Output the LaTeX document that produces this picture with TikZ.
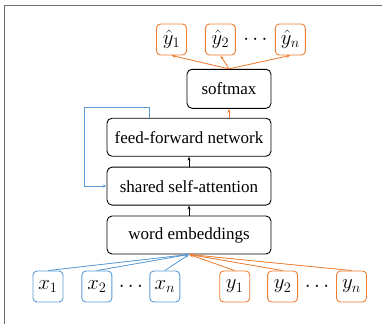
\documentclass[tikz,border=0pt]{standalone}
\usepackage{fontspec}
\setmainfont{Liberation Serif}
\usepackage{tikz}
\usetikzlibrary{positioning,calc,arrows.meta}

\definecolor{lineblue}{RGB}{91,155,213}
\definecolor{lineorange}{RGB}{237,125,49}
\definecolor{framegray}{RGB}{110,110,110}

\tikzset{
  layer/.style={draw, line width=0.9pt, rounded corners=5pt, minimum width=164pt, minimum height=38pt, inner sep=0pt, font=\fontsize{17}{20}\selectfont},
  tok/.style={draw, line width=0.9pt, rounded corners=4pt, minimum width=30pt, minimum height=31pt, inner sep=0pt, font=\fontsize{20.5}{24}\selectfont},
  intok/.style={tok, draw=lineblue},
  outtok/.style={tok, draw=lineorange},
  dots/.style={inner sep=0pt, font=\fontsize{20}{24}\selectfont},
  arr/.style={line width=0.8pt, -{Stealth[length=4pt,width=3pt]}},
  barr/.style={arr, draw=lineblue, fill=lineblue},
  oarr/.style={arr, draw=lineorange, fill=lineorange}
}

\begin{document}
\begin{tikzpicture}[x=1pt, y=-1pt]
    \useasboundingbox (0,0) rectangle (382,324);
    \draw[framegray, line width=1.5pt] (382,5.5) -- (4.5,5.5) -- (4.5,324);

    % model stack
    \node[layer] (emb) at (189,235) {word embeddings};
    \node[layer, above=10pt of emb] (att) {shared self-attention};
    \node[layer, above=10pt of att] (ffn) {feed-forward network};
    \node[layer, minimum width=84pt, minimum height=39pt, above=9pt of ffn.north east, anchor=south east] (soft) {softmax};

    % outputs
    \node[outtok] (yh1) at (171.5,39.5) {$\hat{y}_1$};
    \node[outtok, right=18pt of yh1] (yh2) {$\hat{y}_2$};
    \node[outtok, right=39pt of yh2] (yhn) {$\hat{y}_n$};
    \node[dots] (yhdots) at ($(yh2)!0.5!(yhn)$) {$\cdots$};

    % inputs
    \node[intok] (x1) at (48,286.5) {$x_1$};
    \node[intok, right=18pt of x1] (x2) {$x_2$};
    \node[intok, right=37pt of x2] (xn) {$x_n$};
    \node[dots] (xdots) at ($(x2)!0.5!(xn)$) {$\cdots$};
    \node[outtok, right=39pt of xn] (y1) {$y_1$};
    \node[outtok, right=17pt of y1] (y2) {$y_2$};
    \node[outtok, right=38pt of y2] (yn) {$y_n$};
    \node[dots] (ydots) at ($(y2)!0.5!(yn)$) {$\cdots$};

    \draw[arr] (emb) -- (att);
    \draw[arr] (att) -- (ffn);
    \draw[oarr] (ffn.north -| soft.south) -- (soft.south);
    \draw[barr, fill=none] ([xshift=-40pt]ffn.north) -- ++(0,-10) -| ([xshift=-22pt]att.west) -- (att.west);

    \foreach \t in {yh1,yh2,yhn}
        \draw[oarr] (soft.north) -- (\t.south);
    \foreach \s in {x1,x2,xn}
        \draw[barr] (\s.north) -- (emb.south);
    \foreach \s in {y1,y2,yn}
        \draw[oarr] (\s.north) -- (emb.south);
\end{tikzpicture}
\end{document}
